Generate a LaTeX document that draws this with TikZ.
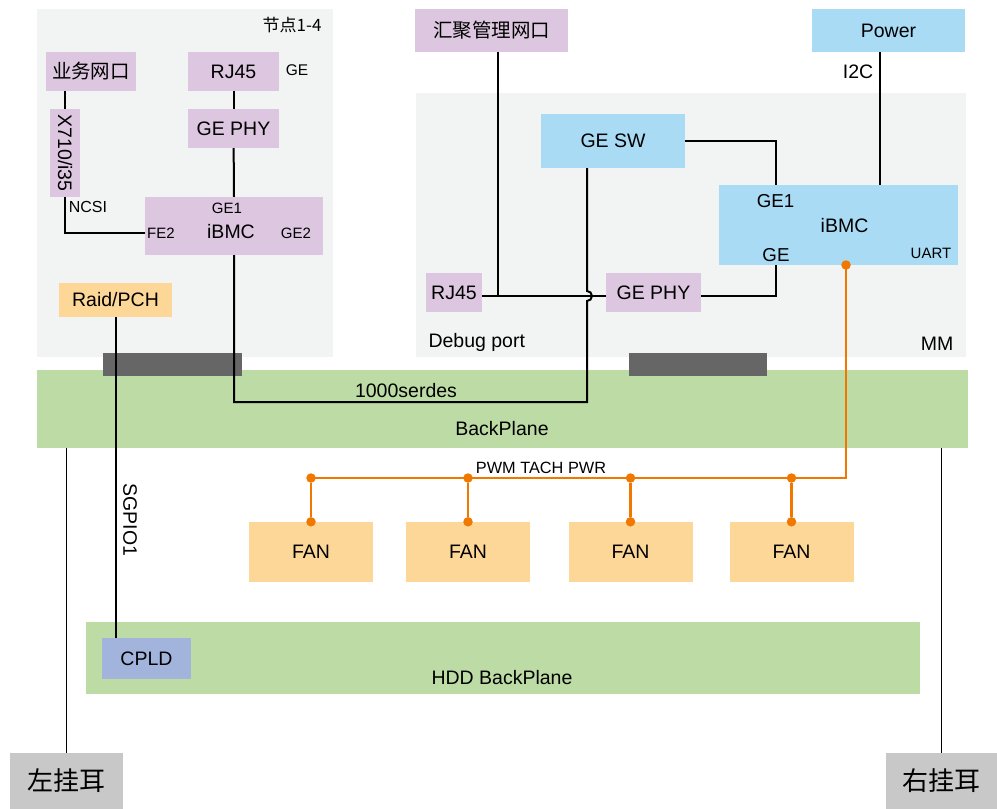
\documentclass[tikz,border=0pt]{standalone}
\usepackage{fontspec}
\setmainfont{Liberation Sans}
\newfontfamily\cjk{Noto Sans CJK SC}
\usetikzlibrary{positioning}

\definecolor{panelgray}{RGB}{242,243,243}
\definecolor{lilac}{RGB}{220,198,224}
\definecolor{skyblue}{RGB}{169,219,245}
\definecolor{fanorange}{RGB}{253,215,152}
\definecolor{bpgreen}{RGB}{188,219,165}
\definecolor{cpldblue}{RGB}{162,180,220}
\definecolor{conngray}{RGB}{102,102,102}
\definecolor{eargray}{RGB}{200,200,200}
\definecolor{sigorange}{RGB}{240,120,0}

\begin{document}
\begin{tikzpicture}[x=1pt, y=-1pt, line join=miter,
  txt/.style={font=\fontsize{19.5pt}{22pt}\selectfont},
  small/.style={font=\fontsize{15pt}{17pt}\selectfont},
  blk/.style={inner sep=0pt, txt},
  wire/.style={line width=2pt, black},
  sig/.style={line width=2.3pt, sigorange},
  dot/.style={circle, fill=sigorange, inner sep=0pt, minimum size=9.5pt}]

\useasboundingbox (0,0) rectangle (997,809);

% boards
\fill[panelgray] (37,9) rectangle (333,357);
\fill[panelgray] (416,93) rectangle (966,357);
\node[inner sep=0pt, fill=bpgreen, minimum width=931pt, minimum height=78pt] (bp) at (502.5,409) {};
\node[inner sep=0pt, fill=bpgreen, minimum width=834pt, minimum height=72pt] (hdd) at (503,658) {};

% connectors
\fill[conngray] (103,353) rectangle (242,376);
\fill[conngray] (629,353) rectangle (767,376);

% node 1-4
\node[txt, anchor=east, font=\fontsize{17pt}{20pt}\selectfont] (ndlbl) at (325,25) {\cjk 节点1-4};
\node[blk, fill=lilac, minimum width=90pt, minimum height=39pt] (biz) at (91,71.5) {\cjk 业务网口};
\node[blk, fill=lilac, minimum width=91pt, minimum height=39pt] (rjl) at (233.5,71.5) {RJ45};
\node[small, font=\fontsize{15.5pt}{17pt}\selectfont] (gelbl) at (297,70) {GE};
\node[blk, fill=lilac, minimum width=91pt, minimum height=39pt] (phyl) at (233.5,128.5) {GE PHY};
\node[blk, fill=lilac, minimum width=88pt, minimum height=30pt, rotate=-90] (x710) at (65,153) {X710/i35};
\node[inner sep=0pt, fill=lilac, minimum width=178pt, minimum height=58pt] (bmcl) at (234,226) {};
\node[small] (ge1l) at (227,208) {GE1};
\node[small] (fe2l) at (161,233) {FE2};
\node[txt] (ibmcl) at (231,232) {iBMC};
\node[small] (ge2l) at (296,233) {GE2};
\node[small, font=\fontsize{16pt}{18pt}\selectfont] (ncsi) at (88,207) {NCSI};
\node[blk, fill=fanorange, minimum width=113pt, minimum height=34pt] (raid) at (115.5,300) {Raid/PCH};

% MM
\node[blk, fill=lilac, minimum width=153pt, minimum height=43pt] (mgmt) at (491.5,30.5) {\cjk 汇聚管理网口};
\node[blk, fill=skyblue, minimum width=153pt, minimum height=43pt] (power) at (888.5,30.5) {Power};
\node[txt] (i2c) at (858,72) {I2C};
\node[blk, fill=skyblue, minimum width=144pt, minimum height=54pt] (sw) at (613,141) {GE SW};
\node[inner sep=0pt, fill=skyblue, minimum width=239pt, minimum height=80pt] (bmcr) at (838.5,225) {};
\node[txt, font=\fontsize{18.7pt}{21pt}\selectfont] (ge1r) at (775.5,201) {GE1};
\node[txt] (ibmcr) at (844.5,226) {iBMC};
\node[txt, font=\fontsize{18.7pt}{21pt}\selectfont] (ger) at (776,255) {GE};
\node[small] (uart) at (931,253) {UART};
\node[blk, fill=lilac, minimum width=56pt, minimum height=39pt] (rjr) at (454,292.5) {RJ45};
\node[blk, fill=lilac, minimum width=95pt, minimum height=39pt] (phyr) at (653.5,292.5) {GE PHY};
\node[txt, anchor=west] (dbg) at (425,342) {Debug port};
\node[txt] (mm) at (937,344) {MM};

% backplanes
\node[txt] (serdes) at (406,391) {1000serdes};
\node[txt] (bplbl) at (502,429) {BackPlane};
\node[txt, font=\fontsize{16.3pt}{18pt}\selectfont] (pwm) at (541,468) {PWM TACH PWR};
\node[txt, rotate=-90] (sgpio) at (130,520) {SGPIO1};
\node[txt] (hddlbl) at (502,678) {HDD BackPlane};
\node[blk, fill=cpldblue, minimum width=89pt, minimum height=41pt] (cpld) at (146.5,658.5) {CPLD};
\node[blk, fill=eargray, minimum width=113pt, minimum height=56pt, font=\fontsize{26pt}{28pt}\selectfont] (lear) at (66.5,781) {\cjk 左挂耳};
\node[blk, fill=eargray, minimum width=111pt, minimum height=56pt, font=\fontsize{26pt}{28pt}\selectfont] (rear) at (941.5,781) {\cjk 右挂耳};

% wires
\coordinate (hop) at (587,296);
\coordinate (serdesR) at (587,402);
\coordinate (mgtap) at (498,296);
\draw[wire] (x710.west) -- (x710.west |- biz.south);
\draw[wire] (x710.east) |- (bmcl.west |- fe2l);
\draw[wire] (rjl) -- (phyl);
\draw[wire] (phyl) -- (bmcl.north);
\draw[wire] (bmcl.south) |- (serdesR) -- ([yshift=-5pt]hop) arc[start angle=90, end angle=-90, radius=5] -- (hop |- sw.south);
\draw[wire] (rjr.east |- hop) -- (phyr.west |- hop);
\draw[wire] (mgmt.south -| mgtap) -- (mgtap);
\draw[wire] (sw.east) -| (ger |- bmcr.north);
\draw[wire] (ger |- bmcr.south) |- (phyr.east |- hop);
\draw[wire] ([xshift=-8.5pt]power.south) -- ([xshift=-8.5pt]power.south |- bmcr.north);
\draw[wire] (raid.south) -- (raid.south |- cpld.north);
\draw[line width=1.8pt] (lear.north) -- (lear.north |- bp.south);
\draw[line width=1.8pt] (rear.north) -- (rear.north |- bp.south);

% fans
\node[dot] (uartdot) at (846,265) {};
\foreach \i/\x in {1/311,2/468,3/630.5,4/791.5}{
  \node[blk, fill=fanorange, minimum width=124pt, minimum height=60pt] (fan\i) at (\x,552) {FAN};
  \node[dot] (bt\i) at (\x,478) {};
  \node[dot] (ft\i) at (fan\i.north) {};
  \draw[sig] (bt\i) -- (ft\i);
}
\draw[sig] (uartdot.center) |- (bt1.center);

\end{tikzpicture}
\end{document}
